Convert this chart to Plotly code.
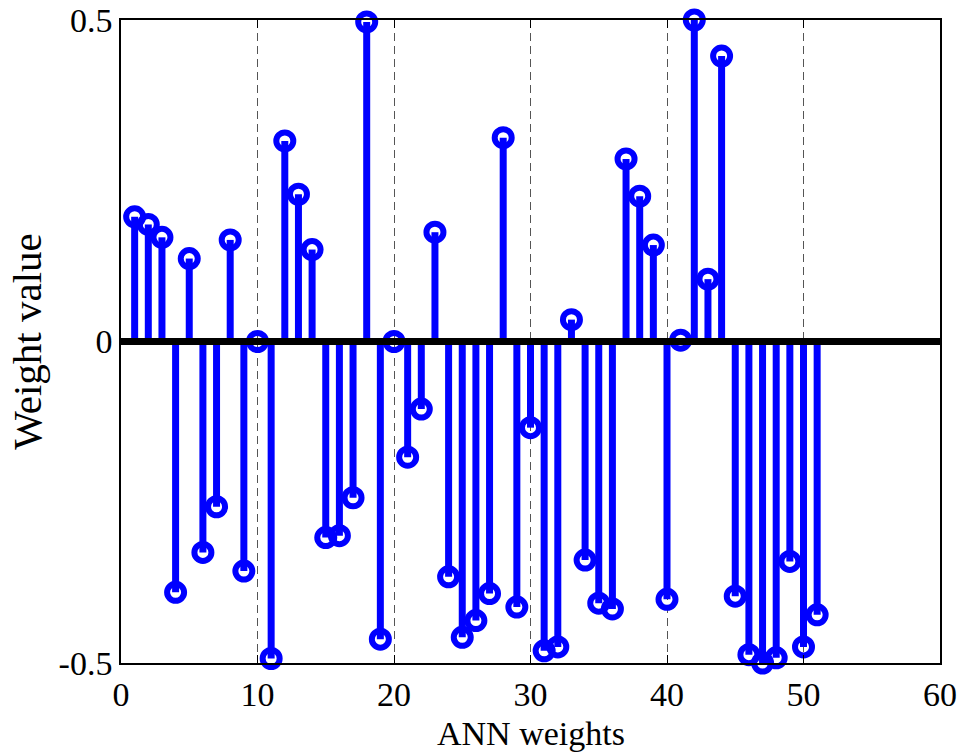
import plotly.graph_objects as go

weight_index = list(range(1, 52))
weight_value = [
    0.194, 0.182, 0.162, -0.390, 0.129, -0.328, -0.257, 0.158, -0.357, 0.0,
    -0.493, 0.312, 0.229, 0.143, -0.305, -0.302, -0.243, 0.497, -0.463, 0.0,
    -0.180, -0.105, 0.170, -0.366, -0.460, -0.434, -0.392, 0.317, -0.413, -0.134,
    -0.481, -0.475, 0.034, -0.340, -0.407, -0.416, 0.284, 0.226, 0.150, -0.401,
    0.002, 0.500, 0.097, 0.444, -0.396, -0.487, -0.500, -0.492, -0.342, -0.475,
    -0.425,
]
x_ticks = [0, 10, 20, 30, 40, 50, 60]
y_ticks = [-0.5, 0, 0.5]
y_tick_text = ["-0.5", "0", "0.5"]

BLUE = "#0000ff"
FONT = "Liberation Serif"

stem_x, stem_y = [], []
for xi, yi in zip(weight_index, weight_value):
    stem_x += [xi, xi, None]
    stem_y += [0, yi, None]

fig = go.Figure()
fig.add_trace(go.Scatter(x=stem_x, y=stem_y, mode="lines",
                         line=dict(color=BLUE, width=7),
                         hoverinfo="skip", showlegend=False, cliponaxis=False))
fig.add_trace(go.Scatter(x=weight_index, y=weight_value, mode="markers",
                         marker=dict(symbol="circle-open", size=17, color=BLUE,
                                     line=dict(color=BLUE, width=6)),
                         showlegend=False, cliponaxis=False))
# baseline
fig.add_trace(go.Scatter(x=[x_ticks[0], x_ticks[-1]], y=[0, 0], mode="lines",
                         line=dict(color="black", width=7),
                         hoverinfo="skip", showlegend=False))

fig.add_annotation(text="ANN weights", xref="paper", yref="paper", x=0.5, y=0,
                   xanchor="center", yanchor="top", yshift=-50, showarrow=False,
                   font=dict(family=FONT, size=34, color="black"))

fig.update_layout(
    width=961, height=752,
    margin=dict(l=121, r=21, t=20, b=89),
    paper_bgcolor="white", plot_bgcolor="white",
    font=dict(family=FONT, size=34, color="black"),
    xaxis=dict(range=[0, 60], tickvals=x_ticks, ticks="inside", ticklen=8,
               tickcolor="black", showline=True, linecolor="black", linewidth=1.5,
               mirror="ticks", showgrid=True, gridcolor="#555555", gridwidth=1,
               griddash="8px,5px", zeroline=False, automargin=False,
               tickfont=dict(size=34)),
    yaxis=dict(range=[-0.5, 0.5], tickvals=y_ticks, ticktext=y_tick_text,
               ticks="inside", ticklen=8, tickcolor="black", showline=True,
               linecolor="black", linewidth=1.5, mirror="ticks", showgrid=False,
               zeroline=False, automargin=False,
               title=dict(text="Weight value", standoff=4),
               tickfont=dict(size=34)),
)

fig.write_html("out.html")
